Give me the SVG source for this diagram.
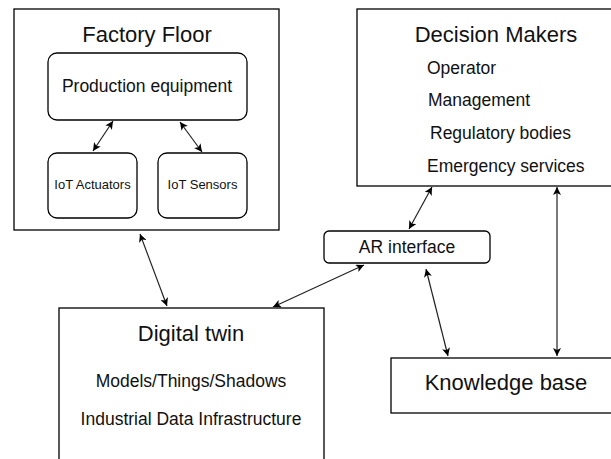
<svg xmlns="http://www.w3.org/2000/svg" width="611" height="459" viewBox="0 0 611 459">
<defs>
<style>
.box{fill:#fff;stroke:#000;stroke-width:1.3}
.t{font-family:"Liberation Sans",Arial,sans-serif;fill:#111}
.big{font-size:22px}
.mid{font-size:17.5px}
.sm{font-size:13px}
.c{stroke:#222;stroke-width:1.2;fill:none;marker-start:url(#ah);marker-end:url(#ah)}
</style>
<marker id="ah" viewBox="0 0 10 10" refX="10" refY="5" markerWidth="8" markerHeight="8" markerUnits="userSpaceOnUse" orient="auto-start-reverse">
<path d="M0,0 L10,5 L0,10 L2.5,5 Z" fill="#000"/>
</marker>
</defs>
<rect width="611" height="459" fill="#fff"/>
<g id="factory-floor">
<rect class="box" x="14" y="9" width="265" height="221"/>
<text class="t big" x="147" y="42" text-anchor="middle">Factory Floor</text>
</g>
<g id="production-equipment">
<rect class="box" x="48" y="53" width="199" height="67" rx="9"/>
<text class="t mid" x="147" y="92" text-anchor="middle">Production equipment</text>
</g>
<g id="iot-actuators">
<rect class="box" x="48" y="153" width="89" height="65" rx="9"/>
<text class="t sm" x="92.5" y="189" text-anchor="middle">IoT Actuators</text>
</g>
<g id="iot-sensors">
<rect class="box" x="158" y="153" width="89" height="65" rx="9"/>
<text class="t sm" x="202.5" y="189" text-anchor="middle">IoT Sensors</text>
</g>
<g id="decision-makers">
<rect class="box" x="357" y="9" width="280" height="177"/>
<text class="t big" x="496" y="42" text-anchor="middle">Decision Makers</text>
<text class="t mid" x="427" y="74">Operator</text>
<text class="t mid" x="428" y="106">Management</text>
<text class="t mid" x="430" y="139">Regulatory bodies</text>
<text class="t mid" x="427" y="172">Emergency services</text>
</g>
<g id="ar-interface">
<rect class="box" x="324" y="231" width="166" height="32" rx="5"/>
<text class="t mid" x="407" y="253" text-anchor="middle">AR interface</text>
</g>
<g id="digital-twin">
<rect class="box" x="59" y="308" width="265" height="170"/>
<text class="t big" x="191" y="341" text-anchor="middle">Digital twin</text>
<text class="t mid" x="191" y="387" text-anchor="middle">Models/Things/Shadows</text>
<text class="t mid" x="191" y="425" text-anchor="middle">Industrial Data Infrastructure</text>
</g>
<g id="knowledge-base">
<rect class="box" x="391" y="358" width="231" height="55"/>
<text class="t big" x="506" y="390" text-anchor="middle">Knowledge base</text>
</g>
<g id="connectors">
<line class="c" x1="113" y1="121" x2="93" y2="151"/>
<line class="c" x1="180" y1="122" x2="202" y2="152"/>
<line class="c" x1="140" y1="234" x2="167" y2="306"/>
<line class="c" x1="364" y1="265" x2="273" y2="307"/>
<line class="c" x1="432" y1="187" x2="409" y2="229"/>
<line class="c" x1="426" y1="269" x2="448" y2="356"/>
<line class="c" x1="557" y1="187" x2="557" y2="356"/>
</g>
</svg>
